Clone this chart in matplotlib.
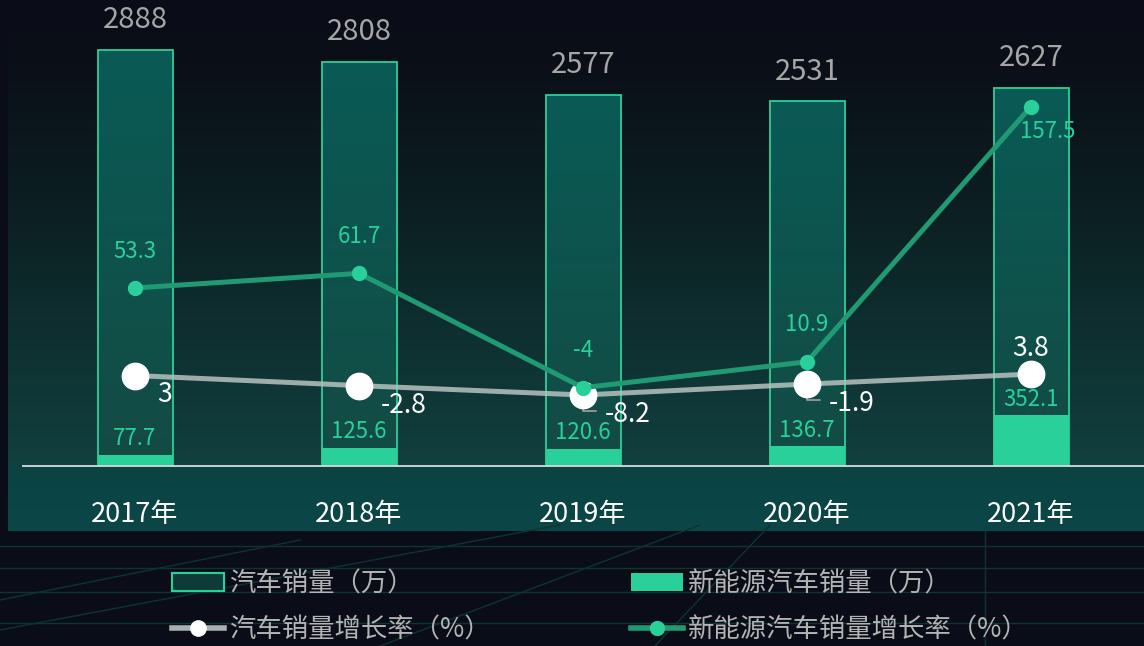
import matplotlib
matplotlib.use('Agg')
import matplotlib.pyplot as plt
import numpy as np
from matplotlib.colors import LinearSegmentedColormap
from matplotlib.patches import Rectangle
from matplotlib.lines import Line2D

plt.rcParams['font.family'] = ['Noto Sans CJK SC', 'DejaVu Sans']

# Dados do gráfico
anos = ['2017年', '2018年', '2019年', '2020年', '2021年']
vendas_total = [2888, 2808, 2577, 2531, 2627]          # 汽车销量（万）
vendas_nev = [77.7, 125.6, 120.6, 136.7, 352.1]        # 新能源汽车销量（万）
cresc_total = [3, -2.8, -8.2, -1.9, 3.8]               # 汽车销量增长率（%）
cresc_nev = [53.3, 61.7, -4, 10.9, 157.5]              # 新能源汽车销量增长率（%）

nomes_legenda = ['汽车销量（万）', '汽车销量增长率（%）',
                 '新能源汽车销量（万）', '新能源汽车销量增长率（%）']

# Cores
FUNDO = '#0a0d17'
VERDE = '#2ad09a'
VERDE_LINHA = '#1f9a72'
W, H = 1144, 646


# Desenha o fundo com degradê e as linhas de grade decorativas
def desenhar_fundo(fig):
    cmap_painel = LinearSegmentedColormap.from_list('painel', [
        (0.0, FUNDO), (0.12, '#0a0f18'), (0.38, '#0c1e22'),
        (0.58, '#0e2c2d'), (0.87, '#113f3e'), (0.88, '#0c4343'), (1.0, '#0b4646')])
    ax_fundo = fig.add_axes([8 / W, (H - 531) / H, (W - 8) / W, 531 / H], zorder=-10)
    ax_fundo.imshow(np.linspace(0, 1, 300).reshape(-1, 1), aspect='auto',
                    cmap=cmap_painel, extent=[0, 1, 0, 1])
    ax_fundo.axis('off')

    # linhas da grade em perspectiva abaixo do painel
    linhas = [((0, 546), (W, 546)), ((0, 568), (W, 568)), ((0, 592), (W, 592)),
              ((0, 623), (W, 623)), ((0, 630), (560, 525)), ((0, 600), (300, 540)),
              ((380, 646), (700, 525)), ((655, 646), (770, 525)), ((985, 531), (985, 646))]
    for (x0, y0), (x1, y1) in linhas:
        fig.add_artist(Line2D([x0 / W, x1 / W], [1 - y0 / H, 1 - y1 / H],
                              color='#0e3333', lw=1, transform=fig.transFigure, zorder=-9))


# Função principal para gerar o gráfico
def gerar_grafico():
    fig = plt.figure(figsize=(W / 100, H / 100), dpi=100, facecolor=FUNDO)
    desenhar_fundo(fig)

    ax = fig.add_axes([23 / W, (H - 466) / H, 1120 / W, 426 / H])
    ax.patch.set_alpha(0)
    ax2 = ax.twinx()
    ax2.patch.set_alpha(0)

    x = np.arange(len(anos))
    largura = 75 / 224

    # barras do total com contorno verde e degradê
    barras = ax.bar(x, vendas_total, width=largura, facecolor='none',
                    edgecolor=VERDE, linewidth=1.3, zorder=2)
    cmap_barra = LinearSegmentedColormap.from_list('barra', ['#0a5a55', '#134b44'])
    for r in barras:
        im = ax.imshow(np.linspace(0, 1, 100).reshape(-1, 1), cmap=cmap_barra,
                       extent=[r.get_x(), r.get_x() + r.get_width(), 0, r.get_height()],
                       aspect='auto', zorder=1.5)
        im.set_clip_path(r)

    # barras dos veículos de nova energia
    ax.bar(x, vendas_nev, width=largura, color=VERDE, zorder=3)

    for xi, v in zip(x, vendas_total):
        ax.annotate(f'{v}', (xi, v), xytext=(0, 21.5), textcoords='offset points',
                    ha='center', va='center', fontsize=21, color='#a6a6a6')
    for xi, v in zip(x, vendas_nev):
        ax.annotate(f'{v}', (xi, v), xytext=(0, 11.5), textcoords='offset points',
                    ha='center', va='center', fontsize=16, color=VERDE, zorder=5)

    ax.set_xlim(-0.5, len(anos) - 0.5)
    ax.set_ylim(0, 2958)
    ax2.set_ylim(-49, 195.8)

    # linhas de crescimento
    ax2.plot(x, cresc_total, color=(0.72, 0.76, 0.75, 0.85), lw=3.6, marker='o',
             ms=19, mfc='white', mec='white', zorder=4)
    ax2.plot(x, cresc_nev, color=VERDE_LINHA, lw=3.6, marker='o',
             ms=10, mfc=VERDE, mec=VERDE, zorder=5)

    ultimo = len(anos) - 1
    com_linha = {2, 3}
    for i, (xi, v) in enumerate(zip(x, cresc_total)):
        if i == ultimo:
            ax2.annotate(f'{v}', (xi, v), xytext=(0, 18.5), textcoords='offset points',
                         ha='center', va='center', fontsize=19, color='white', zorder=6)
        else:
            ax2.annotate(f'{v}', (xi, v), xytext=(16, -14), textcoords='offset points',
                         ha='left', va='center', fontsize=19, color='white', zorder=6)
        if i in com_linha:
            ax2.annotate('', (xi, v), xytext=(9.5, -11.5), textcoords='offset points',
                         arrowprops=dict(arrowstyle='-', color='#9a9a9a', lw=1.3,
                                         shrinkA=0, shrinkB=0,
                                         connectionstyle='angle,angleA=0,angleB=90'),
                         zorder=3.5)
    for i, (xi, v) in enumerate(zip(x, cresc_nev)):
        desloc = (12, -18) if i == ultimo else (0, 26.5)
        ax2.annotate(f'{v}', (xi, v), xytext=desloc, textcoords='offset points',
                     ha='center', va='center', fontsize=16, color=VERDE, zorder=6)

    # eixos
    for lado in ['top', 'left', 'right']:
        ax.spines[lado].set_visible(False)
    for lado in ['top', 'left', 'right', 'bottom']:
        ax2.spines[lado].set_visible(False)
    ax.spines['bottom'].set_color('#d0d0d0')
    ax.spines['bottom'].set_linewidth(1.4)
    ax.spines['bottom'].set_zorder(6)
    ax.set_yticks([])
    ax2.set_yticks([])
    ax.set_xticks(x, anos)
    ax.tick_params(axis='x', length=0, pad=25, labelsize=19.5, colors='white')

    # legenda
    h1 = Rectangle((0, 0), 1, 1, facecolor='#0d3b38', edgecolor=VERDE, lw=1.5)
    h3 = Line2D([], [], color='#a9aeb0', lw=4, marker='o', ms=11, mfc='white', mec='white')
    h2 = Rectangle((0, 0), 1, 1, facecolor=VERDE, edgecolor='none')
    h4 = Line2D([], [], color=VERDE_LINHA, lw=4, marker='o', ms=10, mfc=VERDE, mec=VERDE)
    fig.legend([h1, h3, h2, h4], nomes_legenda, ncol=2, loc='upper left',
               bbox_to_anchor=(172 / W, 1 - 570 / H), frameon=False, fontsize=19,
               handlelength=1.97, handleheight=0.65, handletextpad=0.2,
               columnspacing=5.3, labelspacing=0.72, borderpad=0, borderaxespad=0,
               labelcolor='#b4b4b4')

    fig.savefig('out.png', dpi=100, facecolor=FUNDO)


if __name__ == "__main__":
    gerar_grafico()
